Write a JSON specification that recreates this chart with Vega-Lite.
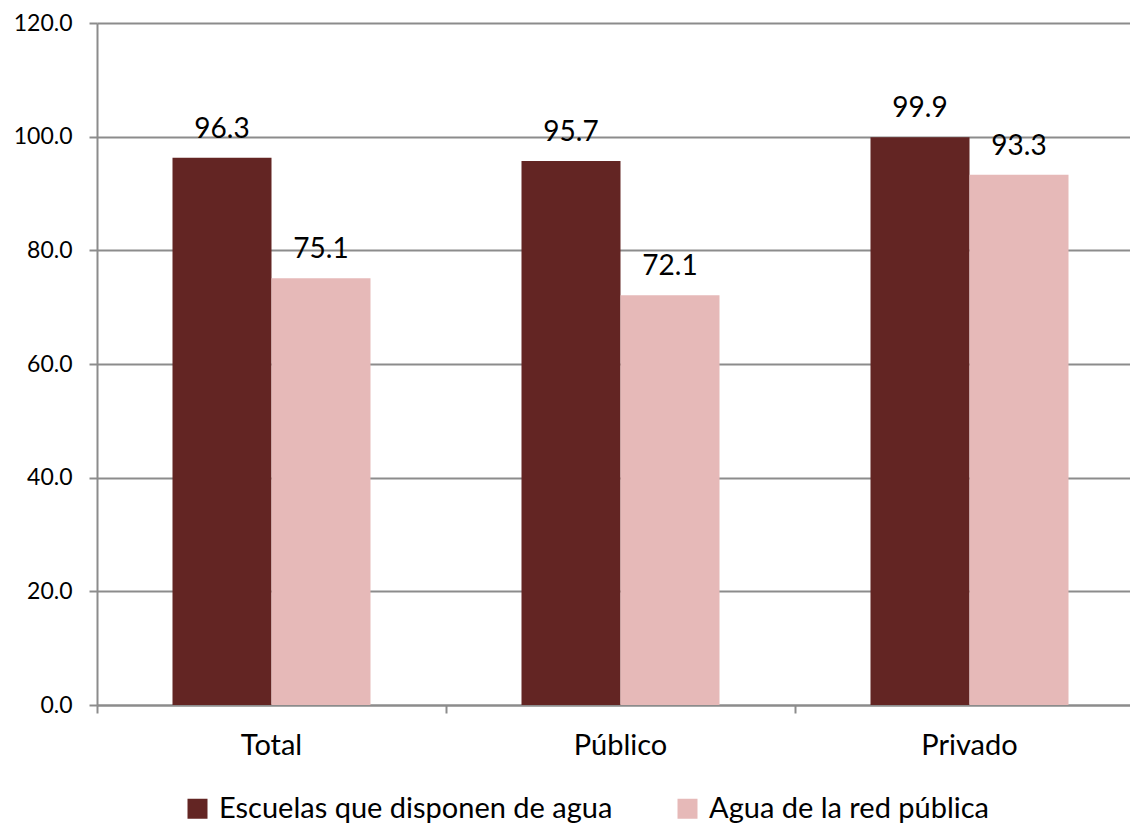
{
  "$schema": "https://vega.github.io/schema/vega-lite/v6.json",
  "width": 1033,
  "height": 682,
  "autosize": {"type": "none"},
  "padding": {"left": 97, "top": 23, "right": 0, "bottom": 118},
  "background": "white",
  "config": {"font": "Lato", "view": {"stroke": null}},
  "data": {
    "values": [
      {"categoria": "Total", "serie": "Escuelas que disponen de agua", "valor": 96.3},
      {"categoria": "Total", "serie": "Agua de la red pública", "valor": 75.1},
      {"categoria": "Público", "serie": "Escuelas que disponen de agua", "valor": 95.7},
      {"categoria": "Público", "serie": "Agua de la red pública", "valor": 72.1},
      {"categoria": "Privado", "serie": "Escuelas que disponen de agua", "valor": 99.9},
      {"categoria": "Privado", "serie": "Agua de la red pública", "valor": 93.3}
    ]
  },
  "encoding": {
    "x": {
      "field": "categoria",
      "type": "nominal",
      "sort": ["Total", "Público", "Privado"],
      "scale": {"range": [0, 1047], "paddingInner": 0, "paddingOuter": 0}
    },
    "xOffset": {
      "field": "serie",
      "type": "nominal",
      "sort": ["Escuelas que disponen de agua", "Agua de la red pública"],
      "scale": {"paddingInner": 0, "paddingOuter": 0.7626}
    },
    "y": {
      "field": "valor",
      "type": "quantitative",
      "scale": {"domain": [0, 120], "nice": false, "zero": true},
      "axis": {
        "title": null,
        "values": [0, 20, 40, 60, 80, 100, 120],
        "format": ".1f",
        "labelFontSize": 23,
        "labelColor": "#000000",
        "labelPadding": 17,
        "tickSize": 8,
        "tickColor": "#8c8c8c",
        "tickWidth": 2,
        "domainColor": "#8c8c8c",
        "domainWidth": 2,
        "gridColor": "#8c8c8c",
        "gridWidth": 2
      }
    }
  },
  "layer": [
    {
      "mark": {"type": "bar"},
      "encoding": {
        "x": {
          "field": "categoria",
          "type": "nominal",
          "sort": ["Total", "Público", "Privado"],
          "axis": {
            "orient": "bottom",
            "title": null,
            "labels": false,
            "bandPosition": 0,
            "tickSize": 8,
            "tickColor": "#8c8c8c",
            "tickWidth": 2,
            "domainColor": "#8c8c8c",
            "domainWidth": 2,
            "grid": false
          }
        },
        "color": {
          "field": "serie",
          "type": "nominal",
          "sort": ["Escuelas que disponen de agua", "Agua de la red pública"],
          "scale": {
            "domain": ["Escuelas que disponen de agua", "Agua de la red pública"],
            "range": ["#632523", "#E6B9B8"]
          },
          "legend": {
            "title": null,
            "orient": "none",
            "direction": "horizontal",
            "legendX": 86,
            "legendY": 771,
            "padding": 0,
            "symbolType": "square",
            "symbolSize": 400,
            "symbolStrokeWidth": 0,
            "symbolOpacity": 1,
            "labelFontSize": 29,
            "labelColor": "#000000",
            "labelLimit": 700,
            "labelOffset": 7,
            "columnPadding": 60
          }
        }
      }
    },
    {
      "mark": {"type": "text", "baseline": "alphabetic", "dy": -20, "fontSize": 28, "color": "#000000"},
      "encoding": {
        "x": {
          "field": "categoria",
          "type": "nominal",
          "sort": ["Total", "Público", "Privado"],
          "axis": {
            "orient": "bottom",
            "title": null,
            "ticks": false,
            "domain": false,
            "grid": false,
            "labelAngle": 0,
            "labelFontSize": 29,
            "labelColor": "#000000",
            "labelPadding": 26
          }
        },
        "text": {"field": "valor", "type": "quantitative", "format": ".1f"}
      }
    }
  ],
  "resolve": {"axis": {"x": "independent"}}
}
